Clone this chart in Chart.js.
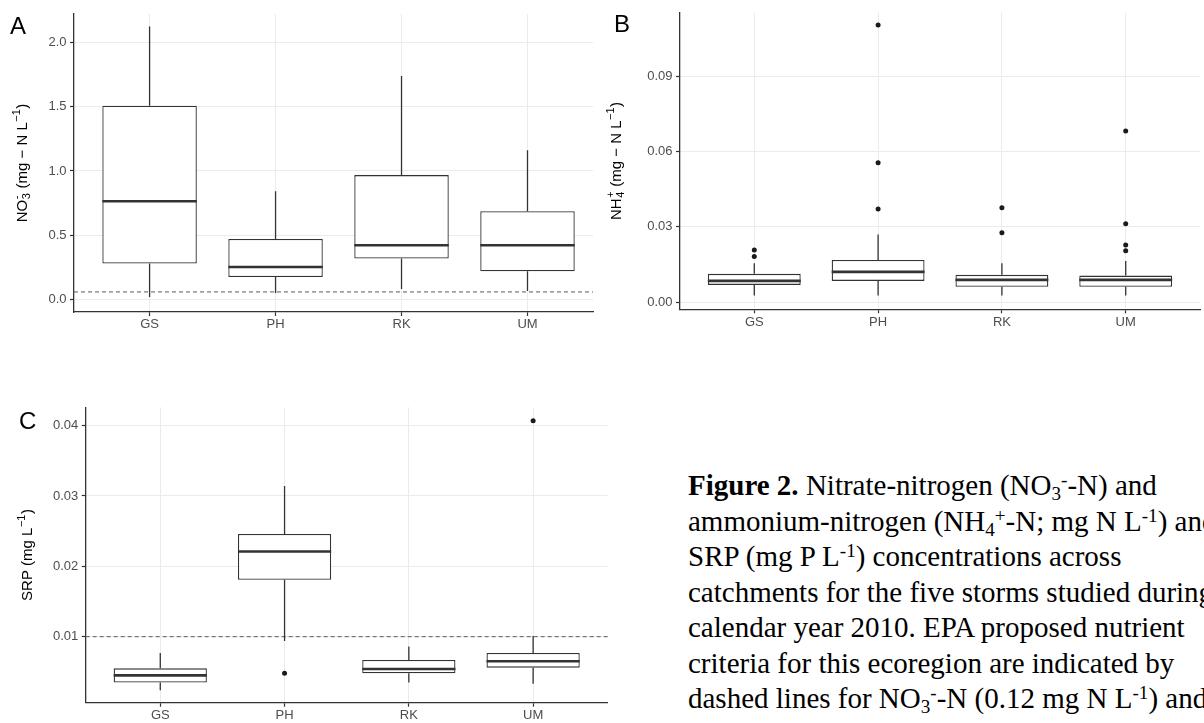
<!DOCTYPE html>
<html>
<head>
<meta charset="utf-8">
<script src="https://cdn.jsdelivr.net/npm/chart.js@4.4.1/dist/chart.umd.min.js"></script>
<style>
    html, body { margin: 0; padding: 0; background: #fff; }
    body { position: relative; width: 1204px; height: 723px; overflow: hidden; }
    canvas { position: absolute; }
    .tag { position: absolute; font: 24px "Liberation Sans", Arial, sans-serif; line-height: 24px; color: #000; }
    #caption {
        position: absolute; left: 688px; top: 468px;
        font: 29px "Liberation Serif", "Times New Roman", serif;
        line-height: 35.5px; white-space: nowrap; color: #000;
    }
    #caption sub, #caption sup { font-size: 0.66em; line-height: 0; position: relative; vertical-align: baseline; }
    #caption sub { top: 0.28em; }
    #caption sup { top: -0.45em; }
</style>
</head>
<body>
<canvas id="chartA" width="600" height="340" style="left:0;top:0"></canvas>
<canvas id="chartB" width="614" height="340" style="left:590px;top:0"></canvas>
<canvas id="chartC" width="620" height="343" style="left:0;top:380px"></canvas>

<div class="tag" style="left:10px;top:14px">A</div>
<div class="tag" style="left:614px;top:12px">B</div>
<div class="tag" style="left:19px;top:409px">C</div>

<div id="caption">
<b>Figure 2.</b> Nitrate-nitrogen (NO<sub>3</sub><sup>-</sup>-N) and<br>
ammonium-nitrogen (NH<sub>4</sub><sup>+</sup>-N; mg N L<sup>-1</sup>) and<br>
SRP (mg P L<sup>-1</sup>) concentrations across<br>
catchments for the five storms studied during<br>
calendar year 2010. EPA proposed nutrient<br>
criteria for this ecoregion are indicated by<br>
dashed lines for NO<sub>3</sub><sup>-</sup>-N (0.12 mg N L<sup>-1</sup>) and
</div>

<script>
// catchments
const categories = ['GS', 'PH', 'RK', 'UM'];

// A - nitrate (mg N/L)
const no3Min = [0.021, 0.052, 0.083, 0.067];
const no3Q1 = [0.280, 0.176, 0.319, 0.220];
const no3Median = [0.765, 0.254, 0.423, 0.423];
const no3Q3 = [1.507, 0.472, 0.968, 0.687];
const no3Max = [2.122, 0.843, 1.738, 1.162];
const no3OutlierCat = [];
const no3OutlierVal = [];
const no3Criterion = 0.06;
const no3Ticks = [0, 0.5, 1.0, 1.5, 2.0];

// B - ammonium (mg N/L)
const nh4Min = [0.0027, 0.0027, 0.0027, 0.0027];
const nh4Q1 = [0.0069, 0.0085, 0.0062, 0.0062];
const nh4Median = [0.0085, 0.0121, 0.0089, 0.0089];
const nh4Q3 = [0.0113, 0.0168, 0.0109, 0.0106];
const nh4Max = [0.0155, 0.0270, 0.0155, 0.0164];
const nh4OutlierCat = ['GS', 'GS', 'PH', 'PH', 'PH', 'RK', 'RK', 'UM', 'UM', 'UM', 'UM'];
const nh4OutlierVal = [0.0208, 0.0182, 0.1103, 0.0555, 0.0371, 0.0376, 0.0277, 0.0681, 0.0312, 0.0228, 0.0205];
const nh4Ticks = [0, 0.03, 0.06, 0.09];

// C - SRP (mg/L)
const srpMin = [0.0024, 0.0094, 0.0035, 0.0033];
const srpQ1 = [0.0035, 0.0181, 0.0048, 0.0056];
const srpMedian = [0.0045, 0.0221, 0.0054, 0.0065];
const srpQ3 = [0.0055, 0.0246, 0.0067, 0.0077];
const srpMax = [0.0077, 0.0314, 0.0086, 0.0101];
const srpOutlierCat = ['PH', 'UM'];
const srpOutlierVal = [0.0048, 0.0407];
const srpCriterion = 0.01;
const srpTicks = [0.01, 0.02, 0.03, 0.04];

const FONT = '"Liberation Sans", Arial, sans-serif';
const INK = '#333333';

// whiskers, medians and the dashed criterion line
const boxExtras = {
    id: 'boxExtras',
    beforeDatasetsDraw(chart, args, opts) {
        if (opts.criterion == null) return;
        const { ctx, chartArea } = chart;
        const py = chart.scales.y.getPixelForValue(opts.criterion);
        ctx.save();
        ctx.strokeStyle = '#5a5a5a';
        ctx.lineWidth = 1;
        ctx.setLineDash([4, 3]);
        ctx.beginPath();
        ctx.moveTo(chartArea.left, py);
        ctx.lineTo(chartArea.right, py);
        ctx.stroke();
        ctx.restore();
    },
    afterDatasetsDraw(chart, args, opts) {
        const { ctx } = chart;
        const x = chart.scales.x, y = chart.scales.y;
        const bars = chart.getDatasetMeta(1).data;
        ctx.save();
        ctx.strokeStyle = INK;
        opts.median.forEach((m, i) => {
            const cx = x.getPixelForValue(i + 1);
            ctx.lineWidth = 1.3;
            ctx.beginPath();
            ctx.moveTo(cx, y.getPixelForValue(opts.q3[i]));
            ctx.lineTo(cx, y.getPixelForValue(opts.max[i]));
            ctx.moveTo(cx, y.getPixelForValue(opts.q1[i]));
            ctx.lineTo(cx, y.getPixelForValue(opts.min[i]));
            ctx.stroke();

            const bar = bars[i];
            const py = y.getPixelForValue(m);
            ctx.lineWidth = 2.6;
            ctx.beginPath();
            ctx.moveTo(bar.x - bar.width / 2, py);
            ctx.lineTo(bar.x + bar.width / 2, py);
            ctx.stroke();
        });
        ctx.restore();
    }
};

// y axis title with plotmath-like sub/superscripts
const richTitle = {
    id: 'richTitle',
    afterDraw(chart, args, opts) {
        const { ctx, chartArea } = chart;
        const size = opts.size;
        const big = size + 'px ' + FONT;
        const small = Math.round(size * 0.7) + 'px ' + FONT;
        const widths = opts.parts.map(p => {
            if (p.t) { ctx.font = big; return ctx.measureText(p.t).width; }
            ctx.font = small;
            const a = p.sub ? ctx.measureText(p.sub).width : 0;
            const b = p.sup ? ctx.measureText(p.sup).width : 0;
            return Math.max(a, b) + 1;
        });
        const total = widths.reduce((s, w) => s + w, 0);
        ctx.save();
        ctx.translate(opts.x, (chartArea.top + chartArea.bottom) / 2);
        ctx.rotate(-Math.PI / 2);
        ctx.fillStyle = '#000';
        ctx.textBaseline = 'alphabetic';
        ctx.textAlign = 'left';
        let cx = -total / 2;
        opts.parts.forEach((p, i) => {
            if (p.t) {
                ctx.font = big;
                ctx.fillText(p.t, cx, 0);
            } else {
                ctx.font = small;
                if (p.sub) ctx.fillText(p.sub, cx + 0.5, size * 0.22);
                if (p.sup) ctx.fillText(p.sup, cx + 0.5, -size * 0.45);
            }
            cx += widths[i];
        });
        ctx.restore();
    }
};

function makePanel(id, cfg) {
    const canvas = document.getElementById(id);
    const area = cfg.area;
    const outliers = cfg.outlierCat.map((c, i) => ({ x: categories.indexOf(c) + 1, y: cfg.outlierVal[i] }));

    return new Chart(canvas.getContext('2d'), {
        type: 'bar',
        data: {
            datasets: [
                {
                    type: 'scatter',
                    data: outliers,
                    pointRadius: 2.5,
                    pointBackgroundColor: '#1a1a1a',
                    pointBorderWidth: 0
                },
                {
                    data: categories.map((c, i) => ({ x: i + 1, y: [cfg.q1[i], cfg.q3[i]] })),
                    backgroundColor: '#ffffff',
                    borderColor: INK,
                    borderWidth: 1.3,
                    borderSkipped: false,
                    categoryPercentage: 1,
                    barPercentage: 0.75
                }
            ]
        },
        options: {
            responsive: false,
            animation: false,
            events: [],
            layout: {
                padding: { left: 0, top: area.top, right: canvas.width - area.right, bottom: 0 }
            },
            plugins: {
                legend: { display: false },
                tooltip: { enabled: false },
                boxExtras: {
                    min: cfg.min, q1: cfg.q1, median: cfg.median, q3: cfg.q3, max: cfg.max,
                    criterion: cfg.criterion
                },
                richTitle: { parts: cfg.title, x: cfg.titleX, size: 15 }
            },
            scales: {
                x: {
                    type: 'linear',
                    offset: false,
                    min: 0.4,
                    max: cfg.xMax,
                    afterBuildTicks: s => { s.ticks = categories.map((c, i) => ({ value: i + 1 })); },
                    afterFit: s => { s.height = canvas.height - area.bottom; },
                    grid: { color: '#ebebeb', lineWidth: 1, offset: false, tickLength: 4, tickColor: INK, tickWidth: 1.2 },
                    border: { display: true, color: INK, width: 1.3 },
                    ticks: {
                        padding: 1,
                        color: '#4d4d4d',
                        font: { family: FONT, size: 13 },
                        callback: v => categories[v - 1]
                    }
                },
                y: {
                    min: cfg.yMin,
                    max: cfg.yMax,
                    beginAtZero: false,
                    afterBuildTicks: s => { s.ticks = cfg.ticks.map(v => ({ value: v })); },
                    afterFit: s => { s.width = area.left; },
                    grid: { color: '#ebebeb', lineWidth: 1, tickLength: 4, tickColor: INK, tickWidth: 1.2 },
                    border: { display: true, color: INK, width: 1.3 },
                    ticks: {
                        padding: 3.5,
                        color: '#4d4d4d',
                        font: { family: FONT, size: 13 },
                        callback: v => v.toFixed(cfg.digits)
                    }
                }
            }
        },
        plugins: [boxExtras, richTitle]
    });
}

makePanel('chartA', {
    min: no3Min, q1: no3Q1, median: no3Median, q3: no3Q3, max: no3Max,
    outlierCat: no3OutlierCat, outlierVal: no3OutlierVal,
    criterion: no3Criterion, ticks: no3Ticks, digits: 1,
    yMin: -0.096, yMax: 2.22, xMax: 4.52,
    area: { left: 74, top: 14, right: 593, bottom: 312 },
    titleX: 27,
    title: [{ t: 'NO' }, { sub: '3', sup: '-' }, { t: ' (mg \u2212 N L' }, { sup: '\u22121' }, { t: ')' }]
});

makePanel('chartB', {
    min: nh4Min, q1: nh4Q1, median: nh4Median, q3: nh4Q3, max: nh4Max,
    outlierCat: nh4OutlierCat, outlierVal: nh4OutlierVal,
    criterion: null, ticks: nh4Ticks, digits: 2,
    yMin: -0.0028, yMax: 0.1152, xMax: 4.6,
    area: { left: 90, top: 12.7, right: 610, bottom: 309.3 },
    titleX: 31,
    title: [{ t: 'NH' }, { sub: '4', sup: '+' }, { t: ' (mg \u2212 N L' }, { sup: '\u22121' }, { t: ')' }]
});

makePanel('chartC', {
    min: srpMin, q1: srpQ1, median: srpMedian, q3: srpQ3, max: srpMax,
    outlierCat: srpOutlierCat, outlierVal: srpOutlierVal,
    criterion: srpCriterion, ticks: srpTicks, digits: 2,
    yMin: 0.00062, yMax: 0.0426, xMax: 4.6,
    area: { left: 85.7, top: 27.3, right: 607.7, bottom: 322.7 },
    titleX: 31.5,
    title: [{ t: 'SRP (mg L' }, { sup: '\u22121' }, { t: ')' }]
});
</script>
</body>
</html>
